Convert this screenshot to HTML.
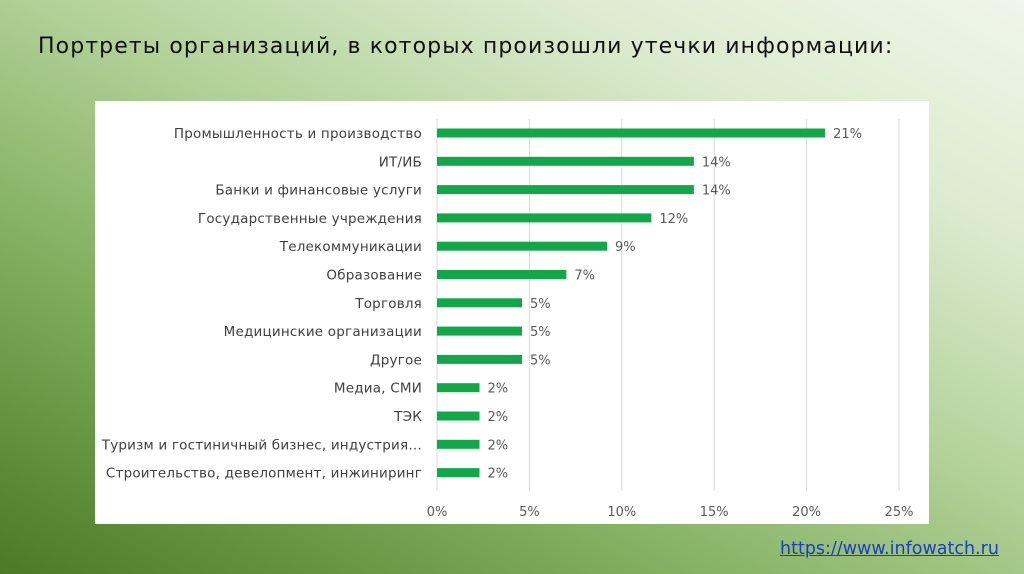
<!DOCTYPE html>
<html><head><meta charset="utf-8">
<style>
html,body{margin:0;padding:0;}
body{width:1024px;height:574px;overflow:hidden;position:relative;
background:linear-gradient(27deg,#4a7a26 0%,#7fae5c 30%,#b3d29a 55%,#dcebcf 78%,#f0f6ea 100%);
font-family:"Liberation Sans","DejaVu Sans",sans-serif;}
#title{position:absolute;left:38px;top:34px;font-size:22px;letter-spacing:1.1px;color:#111;white-space:nowrap;font-family:"DejaVu Sans",sans-serif;}
#panel{position:absolute;left:95px;top:101px;width:834px;height:423px;background:#fff;}
#link{position:absolute;left:780px;top:539px;font-size:17.5px;color:#1a3fc0;text-decoration:underline;font-family:"DejaVu Sans",sans-serif;}
svg text{font-family:"DejaVu Sans",sans-serif;}
</style></head><body>
<div id="title">Портреты организаций, в которых произошли утечки информации:</div>
<div id="panel">
<svg id="chart" width="834" height="423"></svg>
</div>
<a id="link">https://www.infowatch.ru</a>
<script>
const categories=["Промышленность и производство","ИТ/ИБ","Банки и финансовые услуги","Государственные учреждения","Телекоммуникации","Образование","Торговля","Медицинские организации","Другое","Медиа, СМИ","ТЭК","Туризм и гостиничный бизнес, индустрия…","Строительство, девелопмент, инжиниринг"];
const values=[21,13.9,13.9,11.6,9.2,7,4.6,4.6,4.6,2.3,2.3,2.3,2.3];
const valueLabels=["21%","14%","14%","12%","9%","7%","5%","5%","5%","2%","2%","2%","2%"];
const ticks=[0,5,10,15,20,25];
const tickLabels=["0%","5%","10%","15%","20%","25%"];
const NS="http://www.w3.org/2000/svg";
const svg=document.getElementById('chart');
const x0=342,x1=804,y0=32,step=28.3,bh=9;
const xs=v=>x0+(v/25)*(x1-x0);
const ys=i=>y0+i*step;
function mk(t,a){const e=document.createElementNS(NS,t);for(const k in a)e.setAttribute(k,a[k]);svg.appendChild(e);return e;}
ticks.forEach((t,i)=>{
 const g=mk('line',{x1:xs(t),x2:xs(t),y1:18,y2:390,stroke:'#d9d9d9','stroke-width':1});
 
 
 const tl=mk('text',{x:xs(t),y:415,'text-anchor':'middle','font-size':13,fill:'#595959'});
 tl.textContent=tickLabels[i];
 
 
});
categories.forEach((c,i)=>{
 const y=ys(i);
 const lb=mk('text',{x:x0-15,y:y+5,'text-anchor':'end','font-size':13.5,'letter-spacing':0.2,fill:'#404040'});
 lb.textContent=c;
 
 
 const r=mk('rect',{x:x0,y:y-bh/2,width:xs(values[i])-x0,height:bh,fill:'#12a84a'});
 
 
 const vl=mk('text',{x:xs(values[i])+8,y:y+5,'font-size':13,fill:'#595959'});
 vl.textContent=valueLabels[i];
 
 
});
</script>
</body></html>
